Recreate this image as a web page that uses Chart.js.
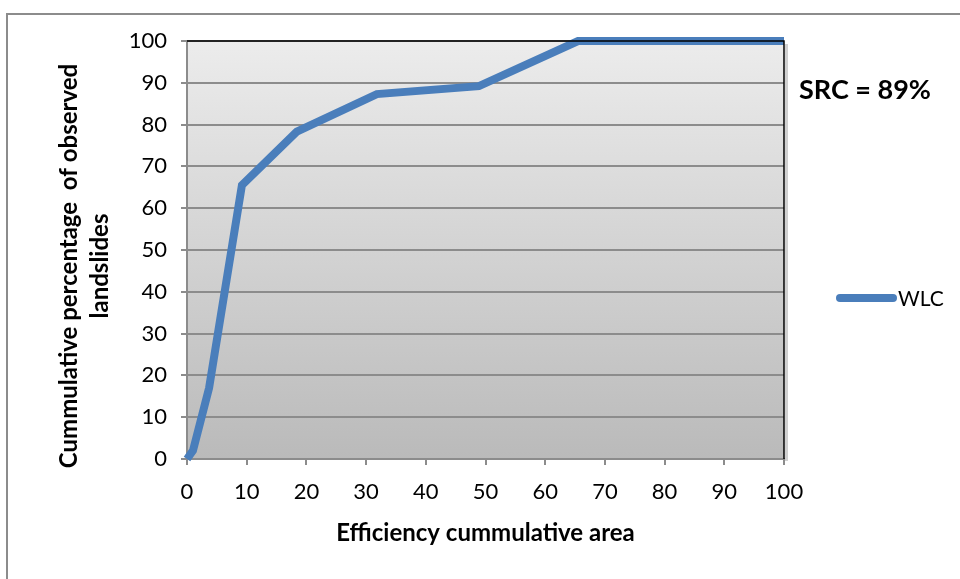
<!DOCTYPE html>
<html>
<head>
<meta charset="utf-8">
<script src="https://cdn.jsdelivr.net/npm/chart.js@4"></script>
<style>
  html, body { margin: 0; padding: 0; background: #fff; }
  #wrap { width: 960px; height: 579px; }
</style>
</head>
<body>
<div id="wrap"><canvas id="src-chart" width="960" height="579"></canvas></div>
<script>
// success rate curve
const areaPct = [0, 1, 3.7, 9.2, 18.4, 31.8, 48.9, 65.5, 100];
const landslidePct = [0, 2, 17, 65.5, 78.3, 87.3, 89.2, 100, 100];
const xTicks = [0, 10, 20, 30, 40, 50, 60, 70, 80, 90, 100];
const yTicks = [0, 10, 20, 30, 40, 50, 60, 70, 80, 90, 100];
const seriesName = "WLC";
const srcLabel = "SRC = 89%";
const xTitle = "Efficiency cummulative area";
const yTitle = ["Cummulative percentage  of observed", "landslides"];

const FONT = "Lato, 'Open Sans', sans-serif";
const BLUE = "#4a7ebb";

// plot background, frame, legend and side texts
const decor = {
    id: "decor",
    beforeDraw(chart){
        const {ctx, chartArea:a} = chart;
        ctx.save();
        const g = ctx.createLinearGradient(0, a.top, 0, a.bottom);
        g.addColorStop(0, "#ececec");
        g.addColorStop(1, "#bababa");
        ctx.fillStyle = g;
        ctx.fillRect(a.left, a.top, a.right - a.left, a.bottom - a.top);
        // outer chart frame
        ctx.strokeStyle = "#8c8c8c";
        ctx.lineWidth = 2;
        ctx.strokeRect(7, 14, 960, 600);
        ctx.restore();
    },
    afterDatasetsDraw(chart){
        const {ctx, chartArea:a} = chart;
        ctx.save();
        // right shadow + border
        ctx.strokeStyle = "#d0d0d0";
        ctx.lineWidth = 3;
        ctx.beginPath();
        ctx.moveTo(a.right + 2.5, a.top + 3);
        ctx.lineTo(a.right + 2.5, a.bottom + 2);
        ctx.stroke();
        ctx.strokeStyle = "#000";
        ctx.lineWidth = 1.5;
        ctx.beginPath();
        ctx.moveTo(a.left, a.top);
        ctx.lineTo(a.right, a.top);
        ctx.lineTo(a.right, a.bottom);
        ctx.stroke();

        // SRC text
        ctx.fillStyle = "#000";
        ctx.font = "bold 27px " + FONT;
        ctx.textBaseline = "middle";
        ctx.textAlign = "left";
        ctx.fillText(srcLabel, 799, 90);

        // legend
        const ds = chart.data.datasets[0];
        ctx.strokeStyle = ds.borderColor;
        ctx.lineWidth = 8;
        ctx.lineCap = "round";
        ctx.beginPath();
        ctx.moveTo(840, 298);
        ctx.lineTo(893, 298);
        ctx.stroke();
        ctx.font = "21px " + FONT;
        ctx.fillText(ds.label, 898, 299);

        // y title, two lines rotated
        ctx.font = "bold 24px " + FONT;
        ctx.textAlign = "center";
        ctx.translate(69, 266);
        ctx.rotate(-Math.PI / 2);
        ctx.fillText(yTitle[0], 0, 0);
        ctx.fillText(yTitle[1], 0, 31);
        ctx.restore();
    }
};

new Chart(document.getElementById("src-chart"), {
    type: "scatter",
    data: {
        datasets: [{
            label: seriesName,
            data: areaPct.map((x, i) => ({x: x, y: landslidePct[i]})),
            showLine: true,
            borderColor: BLUE,
            backgroundColor: BLUE,
            borderWidth: 8,
            pointRadius: 0,
            borderCapStyle: "butt",
            borderJoinStyle: "miter",
            clip: false
        }]
    },
    options: {
        responsive: false,
        animation: false,
        devicePixelRatio: 1,
        layout: { padding: { left: 0, top: 41, right: 176, bottom: 0 } },
        plugins: { legend: { display: false }, tooltip: { enabled: false } },
        scales: {
            x: {
                type: "linear",
                min: 0, max: 100,
                afterBuildTicks(s){ s.ticks = xTicks.map(v => ({value: v})); },
                afterFit(s){ s.height = 120; },
                grid: { drawOnChartArea: false, drawTicks: true, tickLength: 6, color: "#8c8c8c", lineWidth: 2 },
                border: { color: "#8c8c8c", width: 2 },
                ticks: { color: "#000", font: { family: FONT, size: 22 }, padding: 14, maxRotation: 0 },
                title: {
                    display: true, text: xTitle, color: "#000",
                    font: { family: FONT, size: 24, weight: "bold" },
                    padding: { bottom: 31 }
                }
            },
            y: {
                type: "linear",
                min: 0, max: 100,
                afterBuildTicks(s){ s.ticks = yTicks.map(v => ({value: v})); },
                afterFit(s){ s.width = 187; },
                grid: { color: "#8c8c8c", lineWidth: 2, tickLength: 6 },
                border: { color: "#8c8c8c", width: 2 },
                ticks: { color: "#000", font: { family: FONT, size: 22 }, padding: 14 }
            }
        }
    },
    plugins: [decor]
});
</script>
</body>
</html>
